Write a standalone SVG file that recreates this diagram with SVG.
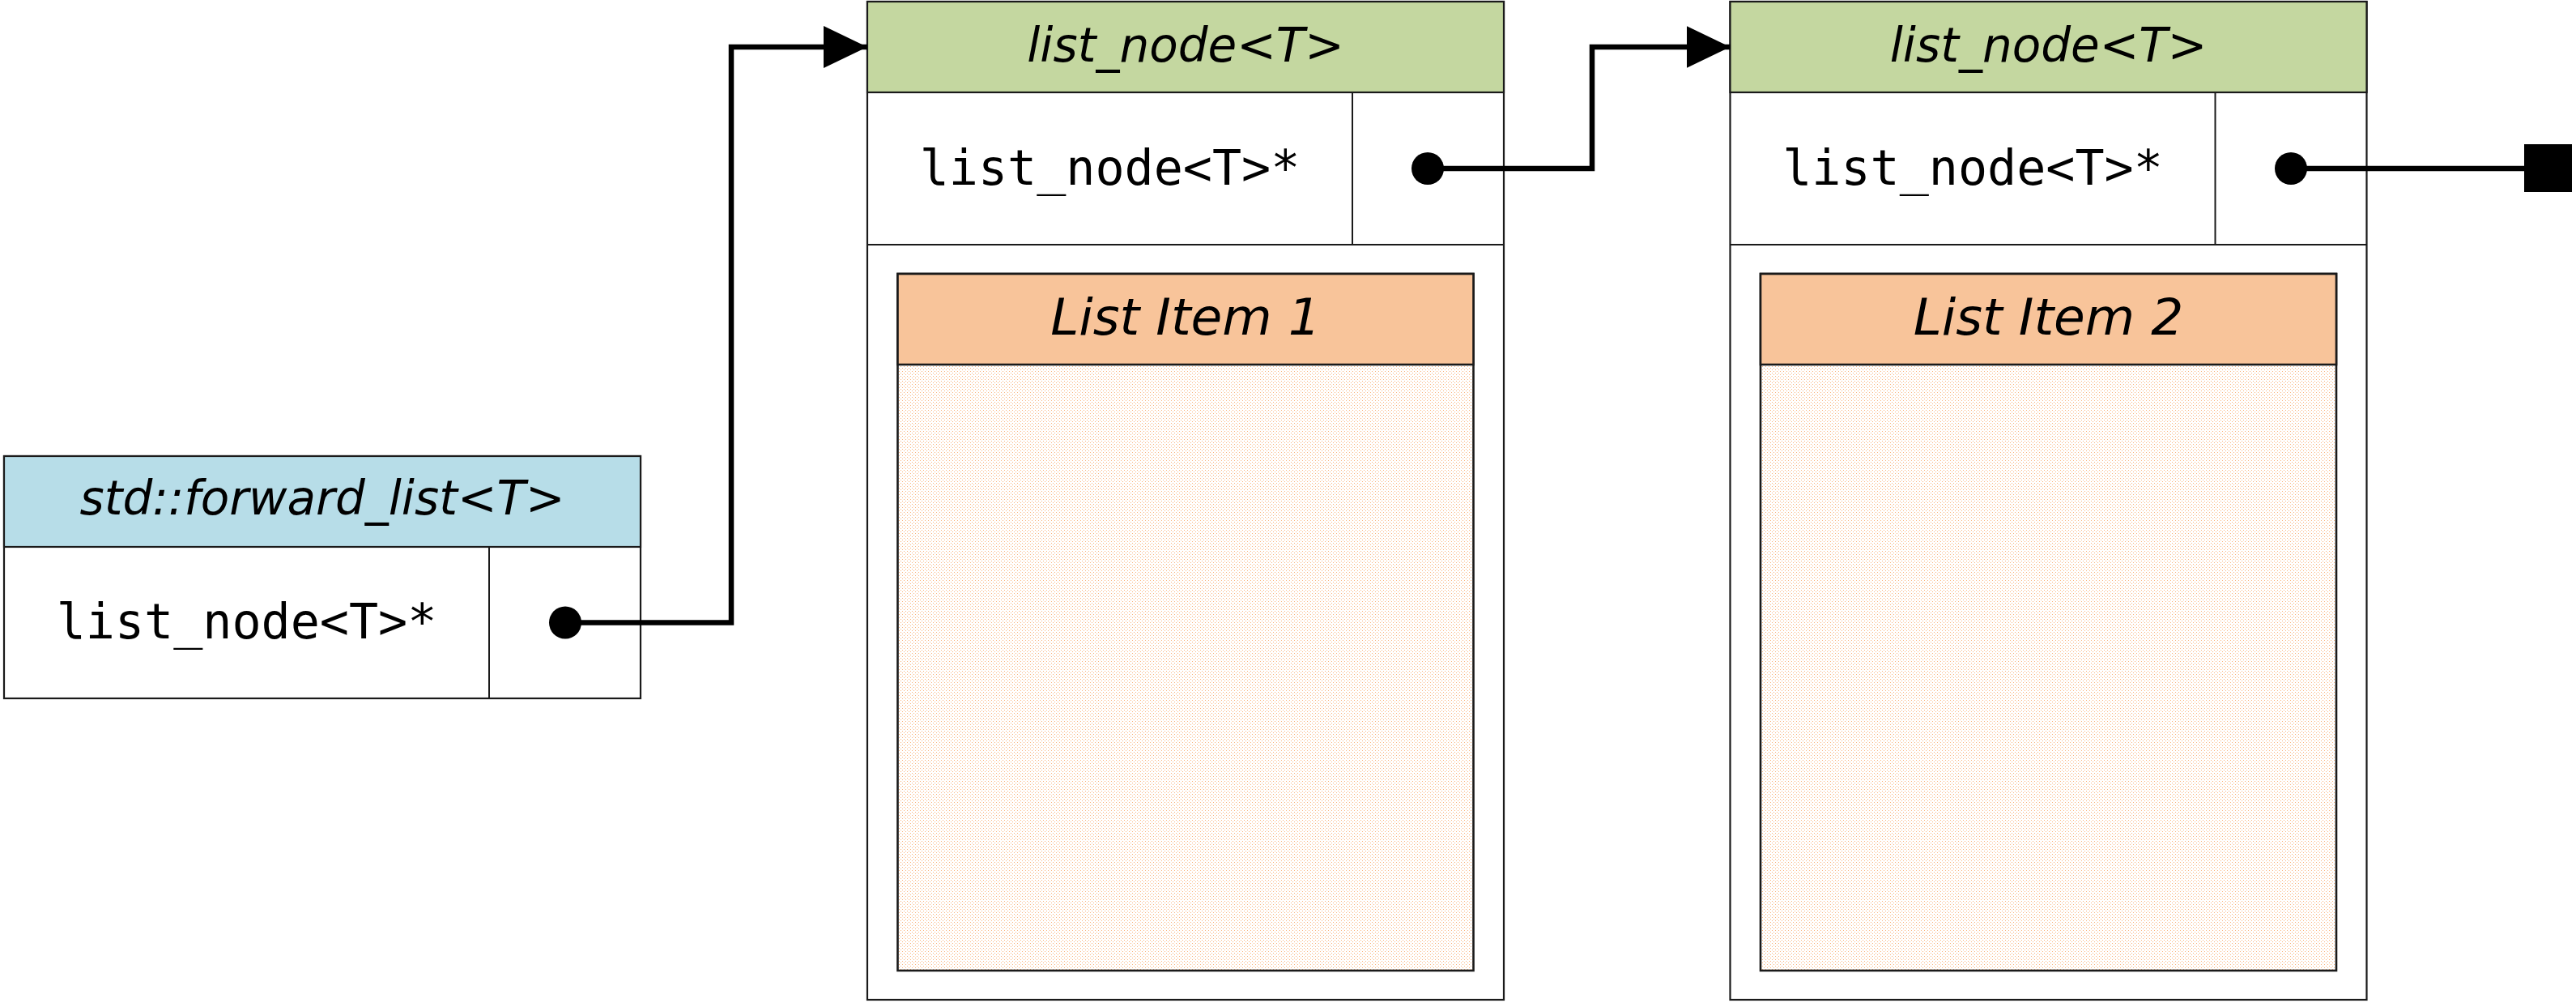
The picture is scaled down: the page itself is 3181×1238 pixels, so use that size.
<svg xmlns="http://www.w3.org/2000/svg" width="3181" height="1238" viewBox="0 0 3181 1238">
<style>
.box{fill:#ffffff;stroke:#1a1a1a;stroke-width:2.2}
.hb{fill:#b7dde8;stroke:#1a1a1a;stroke-width:2.2}
.hg{fill:#c4d7a0;stroke:#1a1a1a;stroke-width:2.2}
.ho{fill:#f8c49a;stroke:#1a1a1a;stroke-width:2.6}
.body{fill:url(#dots);stroke:#1a1a1a;stroke-width:2.6}
.div{stroke:#1a1a1a;stroke-width:2;fill:none}
.hdr{font-family:"DejaVu Sans",Verdana,sans-serif;font-style:italic;font-size:58px;fill:#000;text-anchor:middle}
.item{font-family:"DejaVu Sans",Verdana,sans-serif;font-style:italic;font-size:63px;fill:#000;text-anchor:middle}
.mono{font-family:"DejaVu Sans Mono",monospace;font-size:60px;fill:#000;text-anchor:middle}
.conn{fill:none;stroke:#000;stroke-width:6.5;stroke-linejoin:miter}
</style>
<defs>
<pattern id="dots" x="0" y="0" width="4" height="4" patternUnits="userSpaceOnUse">
<rect width="4" height="4" fill="#ffffff"/>
<rect x="0" y="0" width="1" height="1" fill="#f9b47e"/>
<rect x="2" y="2" width="1" height="1" fill="#f9b47e"/>
</pattern>
<marker id="arrow" viewBox="0 0 54 52" refX="54" refY="26" markerWidth="54" markerHeight="52" markerUnits="userSpaceOnUse" orient="auto">
<path d="M0,0 L54,26 L0,52 Z" fill="#000"/>
</marker>
</defs>
<rect width="3181" height="1238" fill="#ffffff"/>

<g id="forward_list">
<rect class="box" x="5" y="563" width="786" height="299"/>
<rect class="hb" x="5" y="563" width="786" height="112"/>
<line class="div" x1="604" y1="675" x2="604" y2="862"/>
<text class="hdr" x="398" y="635">std::forward_list&lt;T&gt;</text>
<text class="mono" x="304.5" y="788">list_node&lt;T&gt;*</text>
</g>

<g id="list_node_1">
<rect class="box" x="1071" y="2" width="786" height="1232"/>
<rect class="hg" x="1071" y="2" width="786" height="112"/>
<line class="div" x1="1071" y1="302" x2="1857" y2="302"/>
<line class="div" x1="1670" y1="114" x2="1670" y2="302"/>
<text class="hdr" x="1464" y="76">list_node&lt;T&gt;</text>
<text class="mono" x="1370.5" y="228">list_node&lt;T&gt;*</text>
<g id="list_item_1">
<rect class="body" x="1108.5" y="338" width="711" height="860"/>
<rect class="ho" x="1108.5" y="338" width="711" height="112"/>
<text class="item" x="1464" y="413">List Item 1</text>
</g>
</g>

<g id="list_node_2">
<rect class="box" x="2136.5" y="2" width="786" height="1232"/>
<rect class="hg" x="2136.5" y="2" width="786" height="112"/>
<line class="div" x1="2136.5" y1="302" x2="2922.5" y2="302"/>
<line class="div" x1="2735.5" y1="114" x2="2735.5" y2="302"/>
<text class="hdr" x="2529.5" y="76">list_node&lt;T&gt;</text>
<text class="mono" x="2436" y="228">list_node&lt;T&gt;*</text>
<g id="list_item_2">
<rect class="body" x="2174" y="338" width="711" height="860"/>
<rect class="ho" x="2174" y="338" width="711" height="112"/>
<text class="item" x="2529.5" y="413">List Item 2</text>
</g>
</g>

<g id="connectors">
<path class="conn" d="M698,768.5 H903 V58 H1071" marker-end="url(#arrow)"/>
<circle cx="698" cy="768.5" r="20" fill="#000"/>
<path class="conn" d="M1763,208 H1966 V58 H2136.5" marker-end="url(#arrow)"/>
<circle cx="1763" cy="208" r="20" fill="#000"/>
<path class="conn" d="M2829,208 H3118"/>
<circle cx="2829" cy="208" r="20" fill="#000"/>
<rect x="3117" y="178" width="59" height="59" fill="#000"/>
</g>
</svg>
